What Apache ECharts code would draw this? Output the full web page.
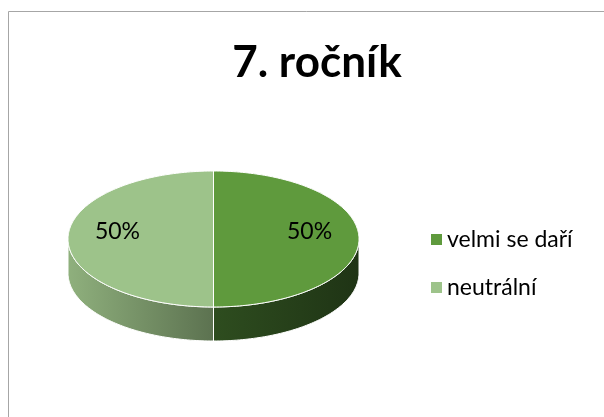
<!DOCTYPE html>
<html>
<head>
<meta charset="utf-8">
<script src="https://cdn.jsdelivr.net/npm/echarts@6/dist/echarts.min.js"></script>
<style>
  html, body { margin: 0; padding: 0; background: #fff; }
  #chart { width: 604px; height: 417px; }
</style>
</head>
<body>
<div id="chart"></div>
<script>
// data
const categories = ['velmi se daří', 'neutrální'];
const values = [1, 1];

// styles
const topColors = ['#5f9a3d', '#9dc38a'];
const sideColors = [['#2e4d1f', '#1f3415'], ['#8fb07d', '#5c7250']];
const FONT = 'Lato, "Open Sans", sans-serif';

const chart = echarts.init(document.getElementById('chart'), null, { renderer: 'canvas' });

// pie geometry (tilted ellipse)
const cx = 213.5, cy = 239, rx = 145.5, ry = 68, depth = 34;
const total = values.reduce((a, b) => a + b, 0);

function pt(t, dy) {
  return [cx + rx * Math.cos(t), cy + ry * Math.sin(t) + (dy || 0)];
}
function arc(t0, t1, dy) {
  const n = Math.max(2, Math.ceil(Math.abs(t1 - t0) / 0.02));
  const out = [];
  for (let i = 0; i <= n; i++) out.push(pt(t0 + (t1 - t0) * i / n, dy));
  return out;
}

function renderSlice(idx) {
  let before = 0;
  for (let i = 0; i < idx; i++) before += values[i];
  // excel style: start at 12 o'clock, clockwise
  const t0 = -Math.PI / 2 + 2 * Math.PI * before / total;
  const t1 = t0 + 2 * Math.PI * values[idx] / total;
  const children = [];

  // side wall: visible only on front half (t in [0, PI])
  const s0 = Math.max(t0, 0), s1 = Math.min(t1, Math.PI);
  if (s1 > s0) {
    const top = arc(s0, s1, 0);
    const bottom = arc(s1, s0, depth);
    const xs = top.map(p => p[0]);
    children.push({
      type: 'polygon',
      shape: { points: top.concat(bottom) },
      style: {
        fill: new echarts.graphic.LinearGradient(Math.min(...xs), 0, Math.max(...xs), 0, [
          { offset: 0, color: sideColors[idx][0] },
          { offset: 1, color: sideColors[idx][1] }
        ], true),
        stroke: '#ffffff',
        lineWidth: 1
      }
    });
  }

  // top face
  children.push({
    type: 'polygon',
    shape: { points: [[cx, cy]].concat(arc(t0, t1, 0)) },
    style: { fill: topColors[idx], stroke: '#ffffff', lineWidth: 1 }
  });

  // label
  const mid = (t0 + t1) / 2;
  const lp = [cx + rx * 0.66 * Math.cos(mid), cy + ry * 0.66 * Math.sin(mid) - 7];
  children.push({
    type: 'text',
    x: lp[0], y: lp[1],
    style: {
      text: Math.round(values[idx] / total * 100) + '%',
      font: '23px ' + FONT,
      fill: '#000000',
      align: 'center',
      verticalAlign: 'middle'
    }
  });
  return { type: 'group', children: children };
}

const option = {
  backgroundColor: '#ffffff',
  animation: false,
  title: {
    text: '7. ročník',
    left: 312,
    textAlign: 'center',
    top: 36,
    textStyle: { fontFamily: FONT, fontSize: 44, fontWeight: 'bold', color: '#000000' }
  },
  legend: {
    orient: 'vertical',
    left: 426,
    top: 223,
    itemWidth: 11,
    itemHeight: 11,
    itemGap: 25,
    icon: 'rect',
    data: categories,
    textStyle: { fontFamily: FONT, fontSize: 23, color: '#000000' }
  },
  graphic: [{
    type: 'rect',
    shape: { x: 8.5, y: 11.5, width: 700, height: 500 },
    style: { fill: 'none', stroke: '#a6a6a6', lineWidth: 1 },
    silent: true,
    z: -10
  }],
  series: categories.map((name, i) => ({
    type: 'custom',
    name: name,
    coordinateSystem: 'none',
    itemStyle: { color: topColors[i] },
    data: [values[i]],
    renderItem: function () { return renderSlice(i); }
  }))
};

chart.setOption(option);
</script>
</body>
</html>
